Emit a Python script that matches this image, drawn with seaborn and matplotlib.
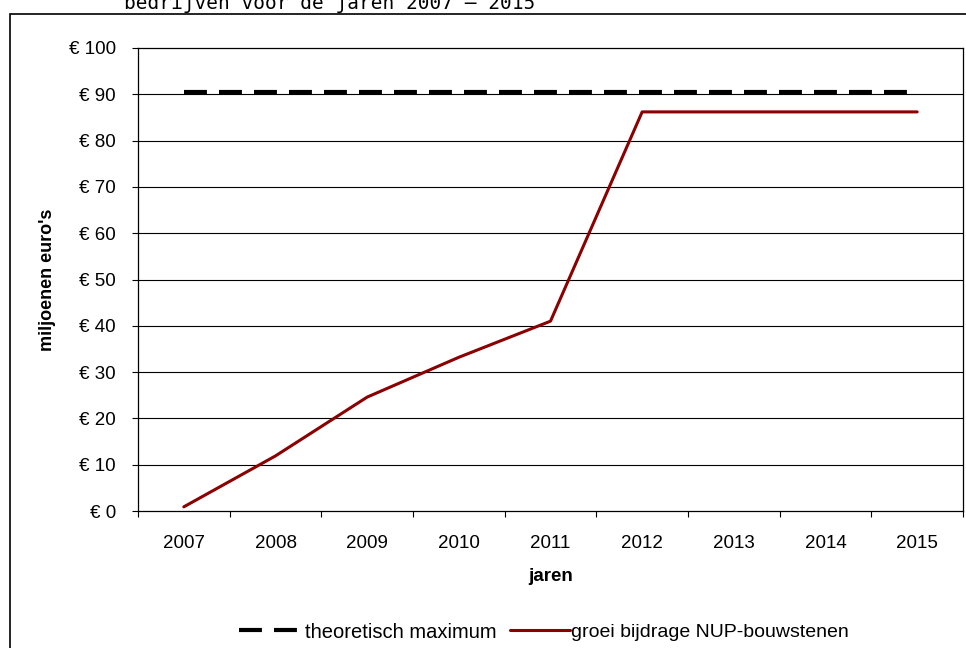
import pandas as pd
import matplotlib
matplotlib.use("Agg")
import matplotlib.pyplot as plt
import seaborn as sns
from matplotlib.patches import Rectangle
from matplotlib.lines import Line2D

# --- data ---
jaren = ['2007', '2008', '2009', '2010', '2011', '2012', '2013', '2014', '2015']
groei = [0.9, 11.9, 24.6, 33.2, 41.0, 86.2, 86.2, 86.2, 86.2]
maximum = [90.6] * len(jaren)
y_ticks = [0, 10, 20, 30, 40, 50, 60, 70, 80, 90, 100]
y_labels = ['€ ' + str(v) for v in y_ticks]

df = pd.DataFrame({'jaar': jaren, 'maximum': maximum, 'groei': groei})

sns.set_style('white')
plt.rcParams['font.family'] = ['Liberation Sans', 'DejaVu Sans']
plt.rcParams['text.color'] = 'black'
plt.rcParams['axes.labelcolor'] = 'black'
plt.rcParams['xtick.color'] = 'black'
plt.rcParams['ytick.color'] = 'black'

fig = plt.figure(figsize=(9.66, 6.48), dpi=100)
ax = fig.add_axes([138 / 966, 1 - 511 / 648, (963 - 138) / 966, (511 - 48) / 648])

# outer frame of the original sheet
fig.patches.append(Rectangle((10 / 966, -0.05), 1.1, 1 - 14 / 648 + 0.05,
                             transform=fig.transFigure, fill=False,
                             edgecolor='black', linewidth=1.2, zorder=0))
# heading above the frame (cut off at the top, as in the source)
fig.text(124 / 966, 1 - 9 / 648, 'bedrijven voor de jaren 2007 – 2015',
         family='DejaVu Sans Mono', fontsize=14, va='baseline', ha='left')

for v in y_ticks[1:-1]:
    ax.axhline(v, color='black', linewidth=0.8, zorder=1)

dash = (0, (5.5, 2.9))
sns.lineplot(data=df, x='jaar', y='maximum', ax=ax, color='black',
             linewidth=3, linestyle=dash, legend=False, zorder=3)
sns.lineplot(data=df, x='jaar', y='groei', ax=ax, color='#8B0000',
             linewidth=2.2, legend=False, zorder=4)

ax.set_xlim(-0.5, len(jaren) - 0.5)
ax.set_ylim(0, 100)
ax.set_yticks(y_ticks)
ax.set_yticklabels(y_labels)
ax.set_xticks(range(len(jaren)))
ax.set_xticklabels(jaren)
ax.set_xticks([i - 0.5 for i in range(len(jaren) + 1)], minor=True)
ax.tick_params(axis='x', which='major', length=0, pad=17, labelsize=13.5)
ax.tick_params(axis='x', which='minor', length=4.5, width=0.8, color='black', bottom=True)
ax.tick_params(axis='y', length=4, width=0.8, color='black', left=True, pad=12, labelsize=13.5)

for s in ax.spines.values():
    s.set_color('black')
    s.set_linewidth(0.9)

ax.set_xlabel('jaren', fontsize=13.5, fontweight='bold', labelpad=12)
ax.set_ylabel("miljoenen euro's", fontsize=13, fontweight='bold', labelpad=9)

# legend: two entries with their own handle lengths, like the source
h_max = Line2D([], [], color='black', linewidth=3, linestyle=dash)
h_groei = Line2D([], [], color='#8B0000', linewidth=2.2)
y_leg = 1 - 632 / 648
fig.legend([h_max], ['theoretisch maximum'], loc='center left',
           bbox_to_anchor=(239 / 966, y_leg), frameon=False, fontsize=14.5,
           handlelength=3.0, handletextpad=0.3, borderpad=0, borderaxespad=0)
fig.legend([h_groei], ['groei bijdrage NUP-bouwstenen'], loc='center left',
           bbox_to_anchor=(510 / 966, y_leg), frameon=False, fontsize=14,
           handlelength=3.1, handletextpad=0.05, borderpad=0, borderaxespad=0)

fig.savefig('out.png', dpi=100)
